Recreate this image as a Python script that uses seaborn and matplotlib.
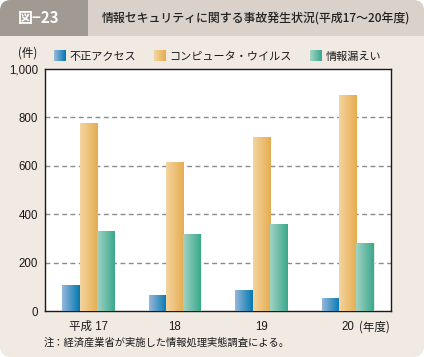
import matplotlib
matplotlib.use("Agg")
import matplotlib.pyplot as plt
import seaborn as sns
import numpy as np
import pandas as pd
from matplotlib.patches import FancyBboxPatch, Rectangle
from matplotlib.colors import LinearSegmentedColormap, to_rgb
from matplotlib.legend_handler import HandlerBase

sns.set_theme(style="white")
plt.rcParams['font.family'] = ['Liberation Sans', 'Noto Sans CJK JP', 'DejaVu Sans']

# ---- data ----
years = ['平成 17', '18', '19', '20']
series_names = ['不正アクセス', 'コンピュータ・ウイルス', '情報漏えい']
unauthorized = [106, 66, 86, 54]
virus = [776, 616, 720, 893]
leak = [330, 318, 360, 281]
y_ticks = [0, 200, 400, 600, 800, 1000]
y_ticklabels = ['0', '200', '400', '600', '800', '1,000']

df = pd.DataFrame({
    'year': years * 3,
    'series': [series_names[0]] * 4 + [series_names[1]] * 4 + [series_names[2]] * 4,
    'value': unauthorized + virus + leak,
})

grad = {
    series_names[0]: ('#95B7DA', '#0479B2'),
    series_names[1]: ('#F4D4A0', '#E5AD50'),
    series_names[2]: ('#A2D2C3', '#3AA98D'),
}
mid = {k: v[1] for k, v in grad.items()}

W, H = 424, 357
DPI = 100
fig = plt.figure(figsize=(W / DPI, H / DPI), dpi=DPI)
fig.patch.set_facecolor('white')

def px(x, y, w, h):
    return (x / DPI, (H - y - h) / DPI, w / DPI, h / DPI)

tr = fig.dpi_scale_trans
bg = '#F1EAE3'
band = '#D9D1CA'
box = '#A19A93'
r = 0.11
x0, y0, w0, h0 = px(0, 0, W, H)
fig.patches.append(FancyBboxPatch((x0, y0), w0, h0, boxstyle=f"round,pad=0,rounding_size={r}",
                                  transform=tr, facecolor=bg, edgecolor='none', zorder=-3))
x0, y0, w0, h0 = px(0, 0, W, 36)
fig.patches.append(FancyBboxPatch((x0, y0), w0, h0, boxstyle=f"round,pad=0,rounding_size={r}",
                                  transform=tr, facecolor=band, edgecolor='none', zorder=-2))
x0, y0, w0, h0 = px(0, 20, W, 16)
fig.patches.append(Rectangle((x0, y0), w0, h0, transform=tr, facecolor=band, edgecolor='none', zorder=-2))
x0, y0, w0, h0 = px(0, 0, 88, 36)
fig.patches.append(FancyBboxPatch((x0, y0), w0, h0, boxstyle=f"round,pad=0,rounding_size={r}",
                                  transform=tr, facecolor=box, edgecolor='none', zorder=-1))
x0, y0, w0, h0 = px(0, 20, 88, 16)
fig.patches.append(Rectangle((x0, y0), w0, h0, transform=tr, facecolor=box, edgecolor='none', zorder=-1))
x0, y0, w0, h0 = px(60, 0, 28, 36)
fig.patches.append(Rectangle((x0, y0), w0, h0, transform=tr, facecolor=box, edgecolor='none', zorder=-1))

cjk = ['Noto Sans CJK JP', 'DejaVu Sans']
fig.text(39 / W, 1 - 18 / H, '図−23', color='white', fontsize=10.8, fontweight='bold',
         ha='center', va='center', family=cjk, zorder=3)
fig.text(102 / W, 1 - 18 / H, '情報セキュリティに関する事故発生状況(平成17〜20年度)', color='#222222',
         fontsize=8.6, fontweight='medium', ha='left', va='center', family=cjk, zorder=3)

# ---- axes ----
ax = fig.add_axes([45 / W, 46 / H, 346 / W, 242 / H])
ax.set_zorder(5)
ax.set_facecolor('white')
sns.barplot(data=df, x='year', y='value', hue='series', order=years, hue_order=series_names,
            palette=mid, width=0.6, gap=0, ax=ax, legend=False, zorder=3)

ax.set_ylim(0, 1000)
ax.set_xlim(-0.5, 3.5)
ax.set_yticks(y_ticks)
ax.set_yticklabels(y_ticklabels)
ax.set_xlabel('')
ax.set_ylabel('')
for yv in y_ticks[1:-1]:
    ax.axhline(yv, color='#8a8a8a', lw=1.0, ls=(0, (3.5, 2.5)), zorder=1)

patches = []
for i, cont in enumerate(ax.containers):
    for p in cont:
        patches.append((p, series_names[i]))
for p, name in patches:
    c1, c2 = grad[name]
    cmap = LinearSegmentedColormap.from_list('g', [c1, c2])
    bx, by = p.get_x(), p.get_y()
    bw, bh = p.get_width(), p.get_height()
    img = ax.imshow(np.linspace(0, 1, 64).reshape(1, -1), cmap=cmap, aspect='auto',
                    extent=(bx, bx + bw, by, by + bh), zorder=4, interpolation='bilinear')
    img.set_clip_path(p)
    p.set_edgecolor('#f4f0ec')
    p.set_linewidth(0.6)
ax.set_xlim(-0.5, 3.5)
ax.set_ylim(0, 1000)
ax.set_aspect('auto')

for s in ax.spines.values():
    s.set_visible(True)
    s.set_color('#1a1a1a')
    s.set_linewidth(1.0)

ax.tick_params(axis='y', length=0, pad=5, labelsize=8.3, labelcolor='#1a1a1a')
ax.tick_params(axis='x', which='major', length=0, pad=7, labelsize=8.3, labelcolor='#1a1a1a')
ax.set_xticks([0.5, 1.5, 2.5], minor=True)
ax.tick_params(axis='x', which='minor', direction='in', length=5, width=1, color='#1a1a1a')
ax.annotate('(年度)', xy=(3, 0), xycoords=('data', 'axes fraction'), xytext=(8, -7),
            textcoords='offset points', ha='left', va='top', fontsize=8.3, color='#1a1a1a',
            family=cjk, annotation_clip=False)

fig.text(28 / W, 1 - 53 / H, '(件)', ha='center', va='center', fontsize=8.3, color='#1a1a1a', family=cjk)


class GradHandler(HandlerBase):
    def create_artists(self, legend, orig_handle, xdescent, ydescent, width, height, fontsize, trans):
        c1, c2 = orig_handle.grad_colors
        c1, c2 = np.array(to_rgb(c1)), np.array(to_rgb(c2))
        n = 12
        arts = []
        for k in range(n):
            f = k / (n - 1)
            col = c1 * (1 - f) + c2 * f
            rct = Rectangle((-xdescent + width * k / n, -ydescent), width / n * 1.05, height,
                            facecolor=col, edgecolor='none', transform=trans)
            arts.append(rct)
        return arts


handles = []
for n in series_names:
    h = Rectangle((0, 0), 1, 1, facecolor=grad[n][1], edgecolor='none')
    h.grad_colors = grad[n]
    handles.append(h)
leg = fig.legend(handles, series_names, loc='center left', bbox_to_anchor=(54 / W, 1 - 56 / H),
                 ncol=3, frameon=False, fontsize=8, handlelength=1.1, handleheight=1.1,
                 handletextpad=0.3, columnspacing=1.6, borderpad=0, borderaxespad=0,
                 handler_map={Rectangle: GradHandler()})
for t in leg.get_texts():
    t.set_family(cjk)
    t.set_color('#1a1a1a')

fig.text(44 / W, 1 - 343 / H, '注：経済産業省が実施した情報処理実態調査による。', ha='left', va='center',
         fontsize=7.4, color='#1a1a1a', family=cjk)

fig.savefig('out.png', dpi=DPI, facecolor=fig.get_facecolor())
